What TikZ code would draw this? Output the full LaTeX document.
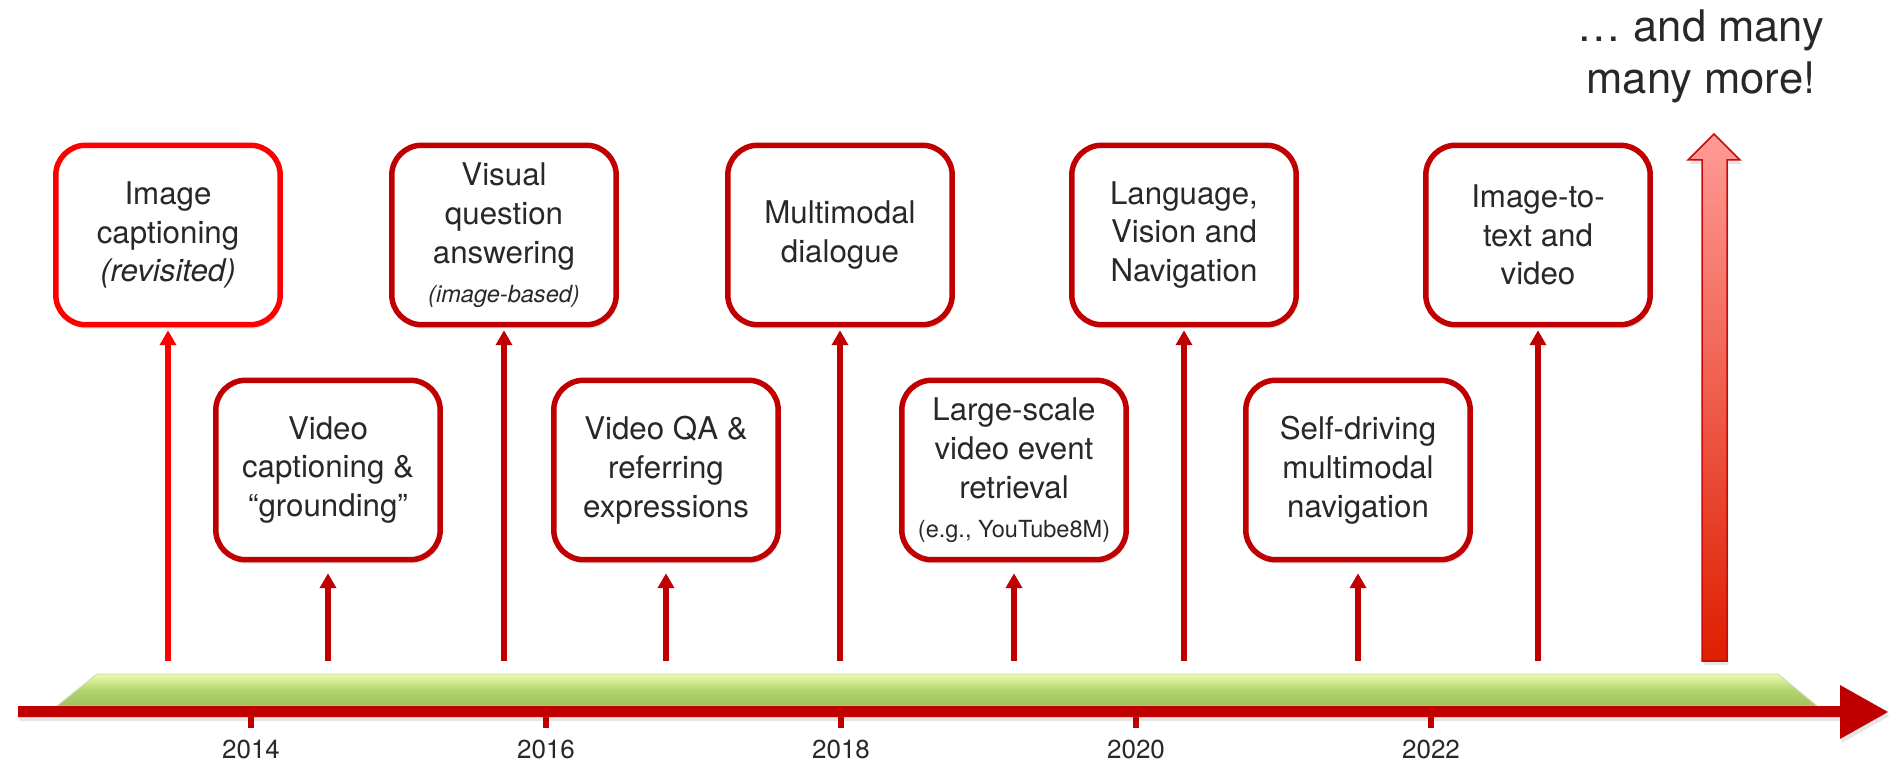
\documentclass[tikz,border=0pt]{standalone}
\usepackage{fontspec}
\setmainfont{TeX Gyre Heros}
\usetikzlibrary{arrows.meta,shadows}
\definecolor{dred}{RGB}{192,0,0}
\definecolor{bred}{RGB}{255,0,0}
\definecolor{txt}{RGB}{40,40,40}
\definecolor{gtop}{RGB}{236,252,172}
\definecolor{gmid}{RGB}{178,212,110}
\definecolor{gbot}{RGB}{160,192,94}
\definecolor{gedge}{RGB}{205,220,175}
\definecolor{bigtop}{RGB}{255,155,150}
\definecolor{bigbot}{RGB}{222,30,0}
\definecolor{bigedge}{RGB}{200,10,10}
\begin{document}
\begin{tikzpicture}[x=0.02cm,y=-0.02cm,
  box/.style={draw=dred, line width=0.11cm, rounded corners=0.6cm, fill=white,
    minimum width=4.49cm, minimum height=3.59cm, inner sep=0pt, align=center,
    text=txt, font=\fontsize{17.8}{22.1}\selectfont,
    drop shadow={opacity=0.2, shadow xshift=0.03cm, shadow yshift=-0.08cm}},
  arr/.style={dred, line width=0.12cm, -{Triangle[length=0.3cm,width=0.32cm]}},
  upend/.style={shorten >=0.055cm},
  lowend/.style={shorten >=0.215cm},
  yearlbl/.style={anchor=base, inner sep=0pt, text=txt, font=\fontsize{14.8}{18}\selectfont}]
\useasboundingbox (0,0) rectangle (1901,763);

% green bar
\path[draw=gedge, line width=0.02cm, top color=gtop, bottom color=gbot, middle color=gmid]
  (57,706) -- (97,674) -- (1778,674) -- (1817,706) -- cycle;

% red axis with arrow
\fill[dred, drop shadow={opacity=0.2, shadow xshift=0.03cm, shadow yshift=-0.08cm}]
  (18,706) -- (1840,706) -- (1840,685) -- (1888,712) -- (1840,739) -- (1840,717) -- (18,717) -- cycle;

% ticks and years
\foreach \xx/\yr in {251/2014, 546/2016, 841/2018, 1136/2020, 1431/2022} {
  \fill[dred] (\xx-3,717) rectangle (\xx+3,728);
  \node[yearlbl] (y\yr) at (\xx,758) {\yr};
}

% boxes
\node[box, draw=bred] (b1) at (168,235) {Image\\captioning\\\textit{(revisited)}};
\node[box] (b2) at (328,470) {Video\\captioning \&\\“grounding”};
\node[box] (b3) at (504,235) {Visual\\question\\answering\\{\fontsize{13.4}{22.1}\selectfont\itshape (image-based)}};
\node[box] (b4) at (666,470) {Video QA \&\\referring\\expressions};
\node[box] (b5) at (840,235) {Multimodal\\dialogue};
\node[box] (b6) at (1014,470) {Large-scale\\video event\\retrieval\\{\fontsize{13.4}{22.1}\selectfont (e.g., YouTube8M)}};
\node[box] (b7) at (1184,235) {Language,\\Vision and\\Navigation};
\node[box] (b8) at (1358,470) {Self-driving\\multimodal\\navigation};
\node[box] (b9) at (1538,235) {Image-to-\\text and\\video};

% arrow start points
\coordinate (a1) at (168,661);
\coordinate (a2) at (328,661);
\coordinate (a3) at (504,661);
\coordinate (a4) at (666,661);
\coordinate (a5) at (840,661);
\coordinate (a6) at (1014,661);
\coordinate (a7) at (1184,661);
\coordinate (a8) at (1358,661);
\coordinate (a9) at (1538,661);

\draw[arr, bred, upend] (a1) -- (b1.south);
\draw[arr, lowend] (a2) -- (b2.south);
\draw[arr, upend] (a3) -- (b3.south);
\draw[arr, lowend] (a4) -- (b4.south);
\draw[arr, upend] (a5) -- (b5.south);
\draw[arr, lowend] (a6) -- (b6.south);
\draw[arr, upend] (a7) -- (b7.south);
\draw[arr, lowend] (a8) -- (b8.south);
\draw[arr, upend] (a9) -- (b9.south);

% big arrow
\draw[draw=bigedge, line width=0.03cm, top color=bigtop, bottom color=bigbot,
  drop shadow={opacity=0.2, shadow xshift=0.03cm, shadow yshift=-0.08cm}]
  (1702,661) -- (1702,160) -- (1688,160) -- (1714,134) -- (1740,160) -- (1727,160) -- (1727,661) -- cycle;

% top text
\node[anchor=north, inner sep=0pt, align=center, text=txt,
  font=\fontsize{24.8}{29.6}\selectfont] (more) at (1701,9) {… and many\\many more!};
\end{tikzpicture}
\end{document}
